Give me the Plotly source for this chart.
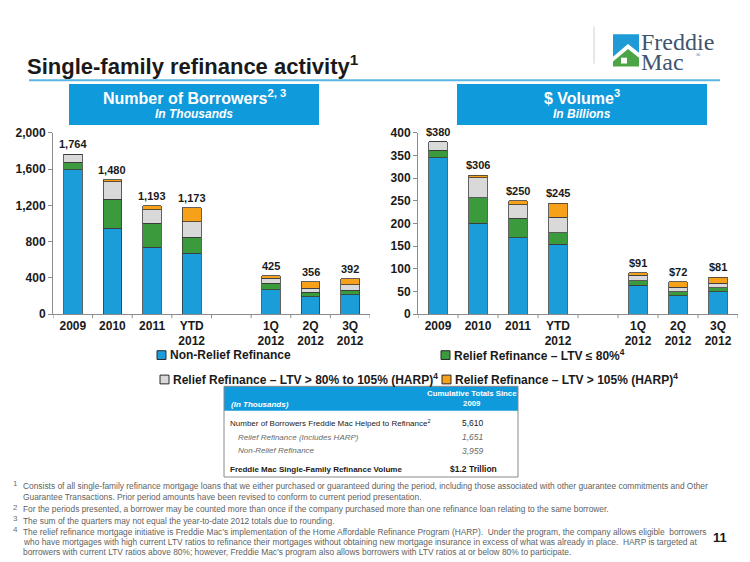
import plotly.graph_objects as go

W, H = 750, 562


def px(x):
    return x / W


def py(y):
    return 1 - y / H


FONT = "Arial, Liberation Sans, sans-serif"

# ---------------- data ----------------
categories = ["2009", "2010", "2011", "YTD<br>2012", "1Q<br>2012", "2Q<br>2012", "3Q<br>2012"]
spacer = " "
series_names = [
    "Non-Relief Refinance",
    "Relief Refinance – LTV ≤ 80%",
    "Relief Refinance – LTV > 80% to 105% (HARP)",
    "Relief Refinance – LTV > 105% (HARP)",
]
series_colors = ["#1A9DD9", "#3A9A3C", "#D9D9D9", "#F7A11A"]

# Number of borrowers (thousands)
borrowers_nonrelief = [1590, 945, 740, 672, 270, 190, 212]
borrowers_ltv80 = [87, 323, 265, 176, 72, 50, 54]
borrowers_harp80_105 = [87, 193, 144, 173, 54, 47, 57]
borrowers_harp105 = [0, 19, 44, 152, 29, 69, 69]

# $ Volume (billions)
volume_nonrelief = [345, 200, 169, 154, 64, 41, 49]
volume_ltv80 = [16, 57, 42, 25, 10, 8, 9]
volume_harp80_105 = [19, 44, 30, 35, 12, 10, 10]
volume_harp105 = [0, 5, 9, 31, 5, 13, 13]

left_ticks = [0, 400, 800, 1200, 1600, 2000]
right_ticks = [0, 50, 100, 150, 200, 250, 300, 350, 400]

table_header = ["(In Thousands)", "Cumulative Totals Since<br>2009"]
table_labels = [
    "Number of Borrowers Freddie Mac Helped to Refinance<sup>2</sup>",
    "Relief Refinance (Includes HARP)",
    "Non-Relief Refinance",
    "Freddie Mac Single-Family Refinance Volume",
]
table_values = ["5,610", "1,651", "3,959", "$1.2 Trillion"]
table_styles = ["plain", "sub", "sub", "bold"]

footnotes = [
    ("1", ["Consists of all single-family refinance mortgage loans that we either purchased or guaranteed during the period, including those associated with other guarantee commitments and Other",
           "Guarantee Transactions. Prior period amounts have been revised to conform to current period presentation."]),
    ("2", ["For the periods presented, a borrower may be counted more than once if the company purchased more than one refinance loan relating to the same borrower."]),
    ("3", ["The sum of the quarters may not equal the year-to-date 2012 totals due to rounding."]),
    ("4", ["The relief refinance mortgage initiative is Freddie Mac’s implementation of the Home Affordable Refinance Program (HARP).  Under the program, the company allows eligible  borrowers",
           "who have mortgages with high current LTV ratios to refinance their mortgages without obtaining new mortgage insurance in excess of what was already in place.  HARP is targeted at",
           "borrowers with current LTV ratios above 80%; however, Freddie Mac’s program also allows borrowers with LTV ratios at or below 80% to participate."]),
]


def with_gap(vals):
    return list(vals[:4]) + [None] + list(vals[4:])


x_cats = with_gap(categories)
x_cats[4] = spacer
x_idx = list(range(len(x_cats)))

fig = go.Figure()

left_series = [borrowers_nonrelief, borrowers_ltv80, borrowers_harp80_105, borrowers_harp105]
right_series = [volume_nonrelief, volume_ltv80, volume_harp80_105, volume_harp105]

for name, color, lv, rv in zip(series_names, series_colors, left_series, right_series):
    fig.add_trace(go.Bar(x=x_idx, y=with_gap(lv), name=name, marker=dict(color=color, line=dict(color="#3a3a3a", width=0.8)),
                         xaxis="x", yaxis="y", showlegend=False))
    fig.add_trace(go.Bar(x=x_idx, y=with_gap(rv), name=name, marker=dict(color=color, line=dict(color="#3a3a3a", width=0.8)),
                         xaxis="x2", yaxis="y2", showlegend=False))

annotations = []
shapes = []

# total labels
left_totals = [sum(v) for v in zip(*left_series)]
right_totals = [sum(v) for v in zip(*right_series)]
for cat, lt, rt in zip(categories, left_totals, right_totals):
    xi = x_cats.index(cat)
    annotations.append(dict(x=xi, y=lt, xref="x", yref="y", text=f"<b>{lt:,}</b>", showarrow=False,
                            yanchor="bottom", yshift=2, font=dict(family=FONT, size=11, color="#1a1a1a")))
    annotations.append(dict(x=xi, y=rt, xref="x2", yref="y2", text=f"<b>${rt:,}</b>", showarrow=False,
                            yanchor="bottom", yshift=2, font=dict(family=FONT, size=11, color="#1a1a1a")))

axis_common = dict(showgrid=False, zeroline=False, showline=True, linecolor="#8c8c8c", linewidth=1,
                   ticks="outside", ticklen=4, tickcolor="#8c8c8c",
                   tickfont=dict(family=FONT, size=12, color="#1a1a1a", weight="bold"))

x_common = dict(tickmode="array", tickvals=x_idx, ticktext=x_cats, range=[-0.5, 7.5], ticks="",
                showgrid=False, zeroline=False, showline=True, linecolor="#8c8c8c", linewidth=1,
                tickfont=dict(family=FONT, size=12, color="#1a1a1a", weight="bold"))

y_dom = [py(315), py(129)]
fig.update_layout(
    width=W, height=H, margin=dict(l=0, r=0, t=0, b=0),
    paper_bgcolor="white", plot_bgcolor="white",
    barmode="stack", bargap=0.53,
    xaxis=dict(domain=[px(53), px(370)], anchor="y", **x_common),
    yaxis=dict(domain=y_dom, range=[0, 2000], tickvals=left_ticks, tickformat=",", anchor="x", **axis_common),
    xaxis2=dict(domain=[px(418), px(738)], anchor="y2", **x_common),
    yaxis2=dict(domain=y_dom, range=[0, 400], tickvals=right_ticks, anchor="x2", **axis_common),
    showlegend=False,
)

# small boundary ticks on the category axes
for xr, yr in [("x", "y"), ("x2", "y2")]:
    for b in range(len(x_cats) + 1):
        shapes.append(dict(type="line", xref=xr, yref=f"{yr} domain", x0=b - 0.5, x1=b - 0.5, y0=0, y1=-0.022,
                           line=dict(color="#8c8c8c", width=1)))

# ---------------- title & rule ----------------
annotations.append(dict(x=px(25), y=py(59), xref="paper", yref="paper", xanchor="left", yanchor="middle",
                        text="<b>Single-family refinance activity<sup>1</sup></b>", showarrow=False,
                        font=dict(family=FONT, size=22, color="#1a1a1a")))
shapes.append(dict(type="line", xref="paper", yref="paper", x0=px(29), x1=px(720), y0=py(75), y1=py(75),
                   line=dict(color="#5BB6E3", width=2)))

# ---------------- logo ----------------
shapes.append(dict(type="line", xref="paper", yref="paper", x0=px(594), x1=px(594), y0=py(20), y1=py(58),
                   line=dict(color="#d0d0d0", width=1)))


def poly(points):
    return "M " + " L ".join(f"{px(x):.5f},{py(y):.5f}" for x, y in points) + " Z"


shapes.append(dict(type="path", xref="paper", yref="paper", path=poly([(613, 28), (639, 28), (639, 47), (628, 38), (613, 51)]),
                   fillcolor="#1E9BD7", line=dict(width=0)))
shapes.append(dict(type="path", xref="paper", yref="paper", path=poly([(613, 61), (613, 56), (628, 43), (639, 52), (639, 61)]),
                   fillcolor="#4BA547", line=dict(width=0)))
shapes.append(dict(type="rect", xref="paper", yref="paper", x0=px(621), x1=px(627), y0=py(58), y1=py(52),
                   fillcolor="white", line=dict(width=0)))
annotations.append(dict(x=px(639), y=py(36), xref="paper", yref="paper", xanchor="left", yanchor="middle",
                        text="Freddie", showarrow=False, font=dict(family="Liberation Serif, serif", size=24, color="#40556F")))
annotations.append(dict(x=px(639), y=py(56), xref="paper", yref="paper", xanchor="left", yanchor="middle",
                        text="Mac", showarrow=False, font=dict(family="Liberation Serif, serif", size=24, color="#40556F")))
annotations.append(dict(x=px(694), y=py(49), xref="paper", yref="paper", xanchor="left", yanchor="middle",
                        text="®", showarrow=False, font=dict(family="Liberation Serif, serif", size=6, color="#40556F")))

# ---------------- header boxes ----------------
for x0, x1, t1, t2 in [(69, 319, "Number of Borrowers<sup>2, 3</sup>", "In Thousands"),
                       (457, 707, "$ Volume<sup>3</sup>", "In Billions")]:
    shapes.append(dict(type="rect", xref="paper", yref="paper", x0=px(x0), x1=px(x1), y0=py(121), y1=py(79),
                       fillcolor="#0F9ADB", line=dict(width=0)))
    cx = px((x0 + x1) / 2)
    annotations.append(dict(x=cx, y=py(92), xref="paper", yref="paper", xanchor="center", yanchor="middle",
                            text=f"<b>{t1}</b>", showarrow=False, font=dict(family=FONT, size=16, color="white")))
    annotations.append(dict(x=cx, y=py(110), xref="paper", yref="paper", xanchor="center", yanchor="middle",
                            text=f"<b><i>{t2}</i></b>", showarrow=False, font=dict(family=FONT, size=12, color="white")))

# ---------------- legend ----------------
legend_pos = [(157, 357), (441, 357), (160, 382), (442, 382)]
for (lx, ly), name, color in zip(legend_pos, series_names, series_colors):
    shapes.append(dict(type="rect", xref="paper", yref="paper", x0=px(lx), x1=px(lx + 9), y0=py(ly + 4.5), y1=py(ly - 4.5),
                       fillcolor=color, line=dict(color="#2a2a2a", width=1)))
    label = name if name == series_names[0] else name + "<sup>4</sup>"
    annotations.append(dict(x=px(lx + 11), y=py(ly), xref="paper", yref="paper", xanchor="left", yanchor="middle",
                            text=f"<b>{label}</b>", showarrow=False, font=dict(family=FONT, size=12, color="#1a1a1a")))

# ---------------- table ----------------
tx0, tx1, ty0, ty_head, ty1 = 224, 518, 389, 414, 482
val_cx = 473
shapes.append(dict(type="rect", xref="paper", yref="paper", x0=px(tx0), x1=px(tx1), y0=py(ty_head), y1=py(ty0),
                   fillcolor="#0F9ADB", line=dict(width=0)))
shapes.append(dict(type="rect", xref="paper", yref="paper", x0=px(tx0), x1=px(tx1), y0=py(ty1), y1=py(ty0),
                   line=dict(color="#8a8a8a", width=1)))
annotations.append(dict(x=px(229), y=py(408), xref="paper", yref="paper", xanchor="left", yanchor="middle",
                        text=f"<b><i>{table_header[0]}</i></b>", showarrow=False, font=dict(family=FONT, size=8, color="white")))
annotations.append(dict(x=px(val_cx - 1), y=py(402), xref="paper", yref="paper", xanchor="center", yanchor="middle",
                        text=f"<b>{table_header[1]}</b>", showarrow=False, font=dict(family=FONT, size=7.8, color="white")))
row_ys = [427, 441, 455, 474]
for lab, val, sty, ry in zip(table_labels, table_values, table_styles, row_ys):
    if sty == "sub":
        lt, vt, col, lx = f"<i>{lab}</i>", f"<i>{val}</i>", "#6a6a6a", 236
    elif sty == "bold":
        lt, vt, col, lx = f"<b>{lab}</b>", f"<b>{val}</b>", "#1a1a1a", 228
    else:
        lt, vt, col, lx = lab, val, "#1a1a1a", 228
    annotations.append(dict(x=px(lx), y=py(ry), xref="paper", yref="paper", xanchor="left", yanchor="middle",
                            text=lt, showarrow=False, font=dict(family=FONT, size=8, color=col)))
    annotations.append(dict(x=px(val_cx), y=py(ry), xref="paper", yref="paper", xanchor="center", yanchor="middle",
                            text=vt, showarrow=False, font=dict(family=FONT, size=8.5, color=col)))

# ---------------- footnotes ----------------
line_ys = [[491, 503], [515], [527], [538, 549, 559]]
for (num, lines), ys in zip(footnotes, line_ys):
    annotations.append(dict(x=px(11), y=py(ys[0] - 2), xref="paper", yref="paper", xanchor="left", yanchor="middle",
                            text=num, showarrow=False, font=dict(family=FONT, size=8, color="#707070")))
    for ln, yy in zip(lines, ys):
        annotations.append(dict(x=px(21), y=py(yy), xref="paper", yref="paper", xanchor="left", yanchor="middle",
                                text=ln, showarrow=False, font=dict(family=FONT, size=8.4, color="#5f5f5f")))

annotations.append(dict(x=px(720), y=py(544), xref="paper", yref="paper", xanchor="center", yanchor="middle",
                        text="<b>11</b>", showarrow=False, font=dict(family=FONT, size=13, color="#1a1a1a")))

fig.update_layout(annotations=annotations, shapes=shapes)
fig.write_html("out.html", config={"displayModeBar": False},
               post_script="document.body.style.margin='0';document.body.style.overflow='hidden';")
